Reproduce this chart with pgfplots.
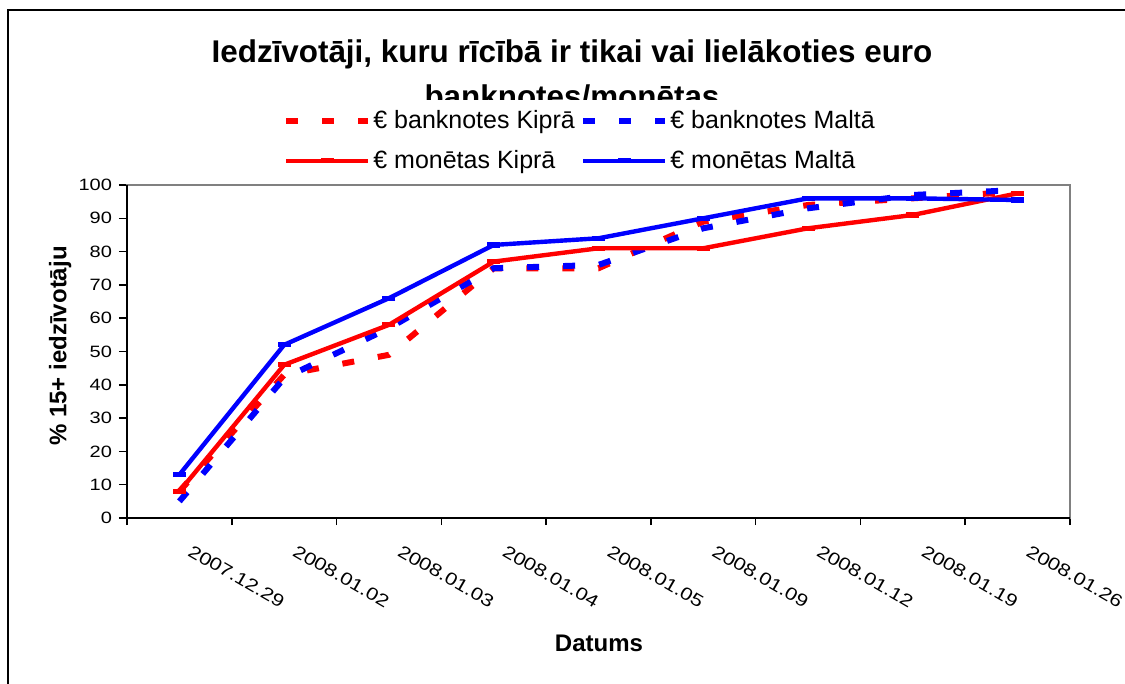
\documentclass[border=0pt]{standalone}
\usepackage{pgfplots}
\usepackage{pgfplotstable}
\pgfplotsset{compat=1.18}
\usepackage{fontspec}
\setmainfont{Liberation Sans}
\newfontfamily\tickfont[FakeStretch=1.22]{Liberation Sans}
\definecolor{xred}{RGB}{255,0,0}
\definecolor{xblue}{RGB}{0,0,255}
\pgfplotstableread{
x bk bm mk mm
0.5 8 5 8 13
1.5 43 42 46 52
2.5 49 57 58 66
3.5 75 75 77 82
4.5 75 76 81 84
5.5 89 87 81 90
6.5 94 93 87 96
7.5 96 97 91 96
8.5 98 98.5 97.5 95.5
}\datatable
\pgfplotsset{
  common/.style={at={(63.5pt,-259pt)}, anchor=south west, scale only axis,
    width=471.5pt, height=166.5pt, xmin=0, xmax=9, ymin=0, ymax=100, clip=false,
    legend columns=1, legend cell align=left,
    legend image code/.code={\draw[mark repeat=2,mark phase=2,##1] plot coordinates {(0pt,0pt) (20.5pt,0pt) (41pt,0pt)};},
  },
  legstyle/.style={legend style={at={(axis description cs:#1,1.1321)}, anchor=west, draw=none, fill=none,
    inner sep=0pt, font=\fontsize{12.5}{15}\selectfont,
    row sep=7.3pt, nodes={inner sep=1pt},
    /tikz/every odd column/.append style={column sep=0pt}}},
  bkstyle/.style={line width=3pt, dash pattern=on 6pt off 12pt},
  mkstyle/.style={line width=2.2pt, mark=-, mark size=3.25pt, mark options={solid, line width=2.6pt}},
}
\begin{document}
\begin{tikzpicture}
\path[use as bounding box] (0,0) rectangle (562.5pt,-342pt);
\draw[line width=1pt] (4pt,-400pt) -- (4pt,-5pt) -- (600pt,-5pt);
\node[anchor=base, font=\fontsize{15.7}{18}\selectfont\bfseries] at (286pt,-31.5pt) {Iedzīvotāji, kuru rīcībā ir tikai vai lielākoties euro};
\begin{scope}
\clip (0pt,0pt) rectangle (562.5pt,-50pt);
\node[anchor=base, font=\fontsize{15.7}{18}\selectfont\bfseries] at (286pt,-54pt) {banknotes/monētas};
\end{scope}
\begin{axis}[common, name=ax, legstyle=0.1654,
  xtick={0.5,1.5,2.5,3.5,4.5,5.5,6.5,7.5,8.5},
  xticklabels={2007.12.29,2008.01.02,2008.01.03,2008.01.04,2008.01.05,2008.01.09,2008.01.12,2008.01.19,2008.01.26},
  minor xtick={0,1,...,9},
  ytick={0,10,...,100},
  tick pos=left, tick align=outside,
  major tick length=4pt, minor tick length=3.5pt,
  every major x tick/.append style={draw=none},
  tick style={black, line width=0.75pt},
  axis line style={draw=gray, line width=1pt},
  /pgf/number format/assume math mode=true,
  xticklabel style={rotate=-30, anchor=north west, font=\tickfont\fontsize{8.8}{10}\selectfont, xshift=7pt, yshift=-1pt},
  yticklabel style={font=\tickfont\fontsize{8.2}{10}\selectfont},
  xlabel={Datums}, ylabel={\% 15+ iedzīvotāju},
  xlabel style={at={(axis description cs:0.5005,-0.375)}, anchor=center, font=\fontsize{12}{14}\selectfont\bfseries},
  ylabel style={at={(axis description cs:-0.071,0.5165)}, anchor=center, font=\fontsize{12}{14}\selectfont\bfseries},
]
\addplot[xred, bkstyle] table[x=x,y=bk] {\datatable};
\addlegendentry{€ banknotes Kiprā}
\addplot[xblue, bkstyle, forget plot] table[x=x,y=bm] {\datatable};
\addplot[xred, mkstyle] table[x=x,y=mk] {\datatable};
\addlegendentry{€ monētas Kiprā}
\addplot[xblue, mkstyle, forget plot] table[x=x,y=mm] {\datatable};
\end{axis}
\begin{axis}[common, hide axis, legstyle=0.4804]
\addlegendimage{xblue, bkstyle}
\addlegendentry{€ banknotes Maltā}
\addlegendimage{xblue, mkstyle}
\addlegendentry{€ monētas Maltā}
\end{axis}
\draw[black, line width=1pt] (ax.north west) -- (ax.south west) -- (ax.south east);
\end{tikzpicture}
\end{document}
